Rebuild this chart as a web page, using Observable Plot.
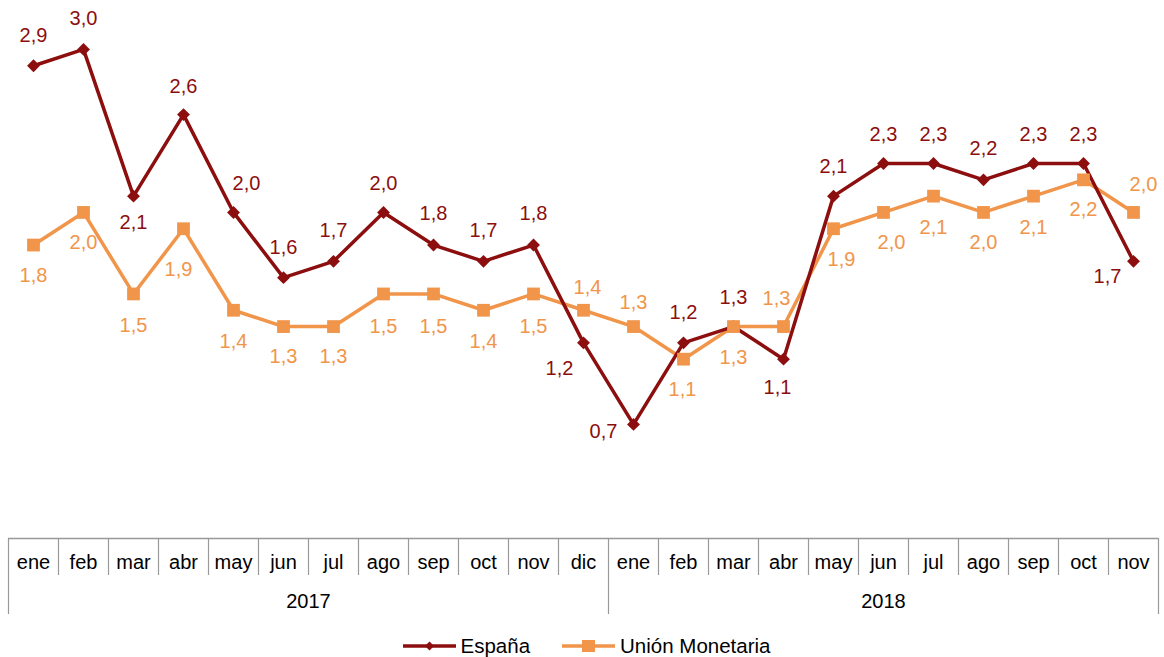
<!DOCTYPE html>
<html>
<head>
<meta charset="utf-8">
<script src="https://cdn.jsdelivr.net/npm/d3@7"></script>
<script src="https://cdn.jsdelivr.net/npm/@observablehq/plot@0.6"></script>
<style>
  body { margin: 0; background: #fff; font-family: "Liberation Sans", Arial, sans-serif; }
  #chart svg { display: block; }
  .legend { display: flex; justify-content: center; align-items: center; gap: 32px; margin-top: 13px; padding-left: 9px; height: 26px; font-size: 20.5px; color: #000; }
  .legend .item { display: flex; align-items: center; gap: 5px; }
</style>
</head>
<body>
<div id="chart"></div>
<div class="legend" id="legend"></div>
<script>
// ---- data ----
const months = ["ene","feb","mar","abr","may","jun","jul","ago","sep","oct","nov","dic",
                "ene","feb","mar","abr","may","jun","jul","ago","sep","oct","nov"];
const years = ["2017", "2018"];
const yearStart = [0, 12];
const yearEnd = [11, 22];
const espana = [2.9, 3.0, 2.1, 2.6, 2.0, 1.6, 1.7, 2.0, 1.8, 1.7, 1.8, 1.2,
                0.7, 1.2, 1.3, 1.1, 2.1, 2.3, 2.3, 2.2, 2.3, 2.3, 1.7];
const union = [1.8, 2.0, 1.5, 1.9, 1.4, 1.3, 1.3, 1.5, 1.5, 1.4, 1.5, 1.4,
               1.3, 1.1, 1.3, 1.3, 1.9, 2.0, 2.1, 2.0, 2.1, 2.2, 2.0];
const seriesNames = ["España", "Unión Monetaria"];

// ---- label placement (pixel offsets from each point) ----
const espOffsets = [[0,-30],[0,-31],[0,26],[0,-28],[13,-29],[0,-30],[0,-31],[0,-29],[0,-31],[0,-31],[0,-31],[-24,26],
                    [-30,7],[0,-30],[0,-29],[-6,28],[0,-30],[0,-29],[0,-29],[0,-31],[0,-29],[0,-29],[-26,15]];
const umOffsets = [[0,31],[0,30],[0,32],[-5,41],[0,31],[0,30],[0,30],[0,33],[0,33],[0,31],[0,33],[4,-23],
                   [0,-24],[-1,30],[0,31],[-7,-28],[8,31],[8,30],[0,31],[0,30],[0,31],[0,30],[10,-28]];

const RED = "#8C0E0E";
const ORANGE = "#F0954A";
const FS = 20;
const fmt = v => v.toFixed(1).replace(".", ",");

const esp = espana.map((v, i) => ({i, v}));
const um = union.map((v, i) => ({i, v}));

const labelMarks = [];
esp.forEach((d, k) => labelMarks.push(Plot.text([d], {x: "i", y: "v", text: d => fmt(d.v), dx: espOffsets[k][0], dy: espOffsets[k][1], fill: RED, fontSize: FS})));
um.forEach((d, k) => labelMarks.push(Plot.text([d], {x: "i", y: "v", text: d => fmt(d.v), dx: umOffsets[k][0], dy: umOffsets[k][1], fill: ORANGE, fontSize: FS})));

const idx = months.map((m, i) => i);
const monthBounds = d3.range(-0.5, months.length, 1).filter(b => !yearStart.map(s => s - 0.5).includes(b) && b !== months.length - 0.5);
const yearBounds = [...yearStart.map(s => s - 0.5), months.length - 0.5];
const yearMid = years.map((y, k) => ({y, x: (yearStart[k] + yearEnd[k]) / 2}));

const ROW1 = -0.227, ROW2 = -0.466;

const chart = Plot.plot({
  width: 1164,
  height: 620,
  marginTop: 0,
  marginBottom: 82,
  marginLeft: 8,
  marginRight: 6,
  style: {fontFamily: "'Liberation Sans', Arial, sans-serif", background: "#fff"},
  x: {type: "linear", domain: [-0.5, months.length - 0.5], axis: null},
  y: {domain: [0, 3.3], axis: null},
  marks: [
    // category table
    Plot.ruleY([0], {x1: -0.5, x2: months.length - 0.5, stroke: "#999", strokeWidth: 1.5}),
    Plot.ruleX(monthBounds, {y1: 0, y2: ROW1, stroke: "#999", strokeWidth: 1.2}),
    Plot.ruleX(yearBounds, {y1: 0, y2: ROW2, stroke: "#999", strokeWidth: 1.2}),
    Plot.text(idx, {x: d => d, y: -0.147, text: d => months[d], fontSize: FS, fill: "#000"}),
    Plot.text(yearMid, {x: "x", y: -0.386, text: "y", fontSize: FS, fill: "#000"}),
    // series
    Plot.line(um, {x: "i", y: "v", stroke: ORANGE, strokeWidth: 3.5}),
    Plot.line(esp, {x: "i", y: "v", stroke: RED, strokeWidth: 3.5}),
    Plot.dot(esp, {x: "i", y: "v", symbol: "diamond2", r: 5.8, fill: RED, stroke: "none"}),
    Plot.dot(um, {x: "i", y: "v", symbol: "square", r: 7.2, fill: ORANGE, stroke: "none"}),
    ...labelMarks
  ]
});
document.getElementById("chart").appendChild(chart);

// legend
const legend = document.getElementById("legend");
const sw = [
  {name: seriesNames[0], color: RED, marker: `<path d="M26.5,4.5 L31,9 L26.5,13.5 L22,9 Z" fill="${RED}"/>`},
  {name: seriesNames[1], color: ORANGE, marker: `<rect x="20" y="3" width="13" height="12" fill="${ORANGE}"/>`}
];
sw.forEach(s => {
  const it = document.createElement("div");
  it.className = "item";
  it.innerHTML = `<svg width="53" height="18"><line x1="0" y1="9" x2="53" y2="9" stroke="${s.color}" stroke-width="3.5"/>${s.marker}</svg><span>${s.name}</span>`;
  legend.appendChild(it);
});
</script>
</body>
</html>
